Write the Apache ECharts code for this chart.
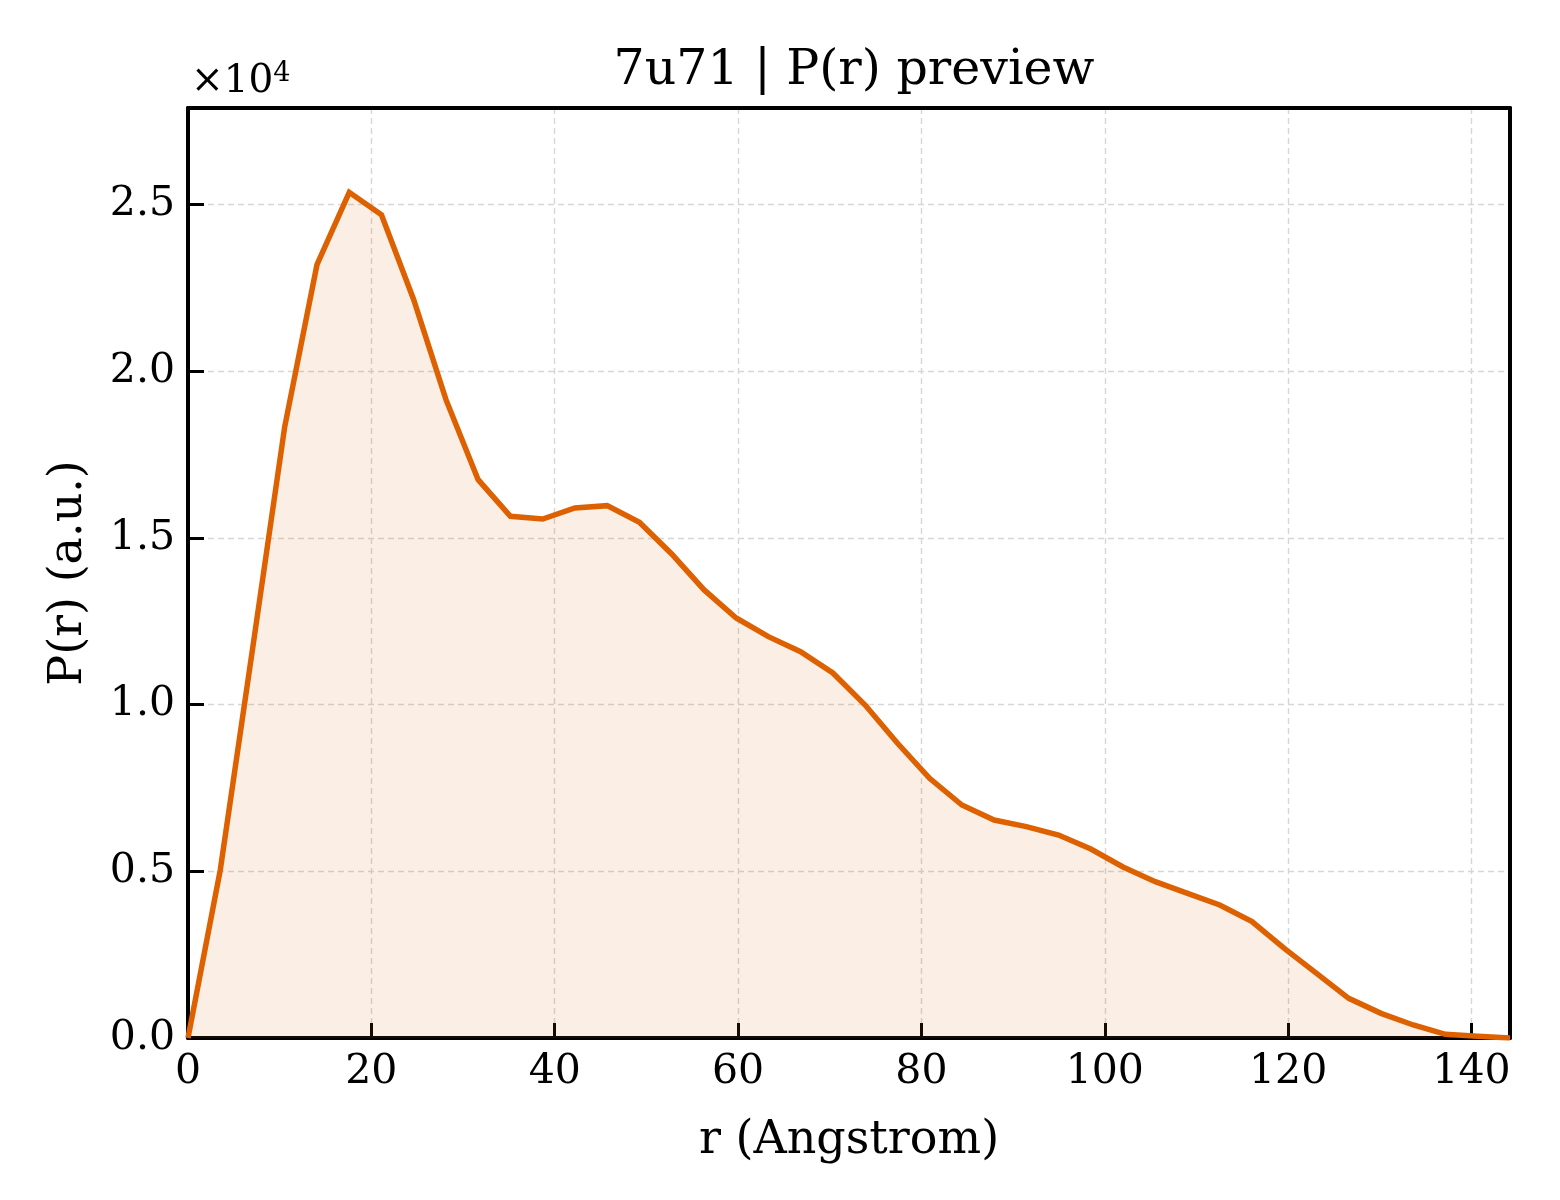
<!DOCTYPE html>
<html>
<head>
<meta charset="utf-8">
<script src="https://cdn.jsdelivr.net/npm/echarts@6/dist/echarts.min.js"></script>
<style>
  html, body { margin: 0; padding: 0; background: #fff; }
  #chart { width: 1560px; height: 1200px; }
</style>
</head>
<body>
<div id="chart"></div>
<script>
const rValues = [0, 3.52, 7.03, 10.55, 14.07, 17.59, 21.10, 24.62, 28.14, 31.65, 35.17, 38.69,
  42.20, 45.72, 49.24, 52.76, 56.27, 59.79, 63.31, 66.82, 70.34, 73.86, 77.37, 80.89, 84.41,
  87.93, 91.44, 94.96, 98.48, 101.99, 105.51, 109.03, 112.54, 116.06, 119.58, 123.10, 126.61,
  130.13, 133.65, 137.16, 140.68, 144.20];
const prValues = [0, 5040, 11650, 18340, 23200, 25370, 24700, 22150, 19150, 16750, 15650, 15570,
  15900, 15970, 15470, 14520, 13450, 12600, 12040, 11590, 10950, 9990, 8850, 7790, 6990,
  6540, 6340, 6090, 5670, 5130, 4690, 4340, 3990, 3490, 2690, 1940, 1190, 740, 390, 110, 50, 0];

const xTicks = [0, 20, 40, 60, 80, 100, 120, 140];
const yTicks = [0, 5000, 10000, 15000, 20000, 25000];

const FONT = 'DejaVu Serif';
const LINE = '#dd6100';
const GRIDLINE = { show: true, lineStyle: { color: '#d6d6d6', width: 1.4, type: [6, 4] } };

const chart = echarts.init(document.getElementById('chart'));
const points = rValues.map((r, i) => [r, prValues[i]]);

// plain frame axes for the top and right edges
const frameAxis = {
  type: 'value',
  axisLine: { show: true, onZero: false, lineStyle: { color: '#000', width: 4 } },
  axisTick: { show: false }, axisLabel: { show: false }, splitLine: { show: false }
};

chart.setOption({
  animation: false,
  backgroundColor: '#fff',
  title: {
    text: '7u71 | P(r) preview',
    left: 849, top: 42, textAlign: 'center',
    textStyle: { fontFamily: FONT, fontWeight: 'normal', fontSize: 49, color: '#000' }
  },
  graphic: [{
    type: 'text', left: 191, top: 60,
    style: {
      text: '×10{s|4}',
      font: `39px "${FONT}"`, fill: '#000',
      rich: { s: { fontFamily: FONT, fontSize: 27, verticalAlign: 'top', padding: [0, 0, 16, 0] } }
    }
  }],
  grid: { left: 188, right: 50, top: 108, bottom: 162 },
  xAxis: [{
    type: 'value', min: 0, max: 144.2, interval: 20,
    name: 'r (Angstrom)', nameLocation: 'middle', nameGap: 80,
    nameTextStyle: { fontFamily: FONT, fontSize: 46, color: '#000' },
    axisLine: { onZero: false, lineStyle: { color: '#000', width: 4 } },
    axisTick: { inside: true, length: 15, lineStyle: { color: '#000', width: 3 } },
    axisLabel: {
      fontFamily: FONT, fontSize: 41, color: '#000', margin: 14,
      showMaxLabel: false,
      formatter: v => xTicks.includes(v) ? String(v) : ''
    },
    splitLine: GRIDLINE
  }, Object.assign({ position: 'top', min: 0, max: 144.2 }, frameAxis)],
  yAxis: [{
    type: 'value', min: 0, max: 27900, interval: 5000,
    name: 'P(r) (a.u.)', nameLocation: 'middle', nameGap: 96,
    nameTextStyle: { fontFamily: FONT, fontSize: 46, color: '#000' },
    axisLine: { onZero: false, lineStyle: { color: '#000', width: 4 } },
    axisTick: { inside: true, length: 16, lineStyle: { color: '#000', width: 3 } },
    axisLabel: {
      fontFamily: FONT, fontSize: 41, color: '#000', margin: 13,
      showMaxLabel: false,
      formatter: v => yTicks.includes(v) ? (v / 10000).toFixed(1) : ''
    },
    splitLine: GRIDLINE
  }, Object.assign({ position: 'right', min: 0, max: 27900 }, frameAxis)],
  series: [{
    type: 'line', data: points, showSymbol: false, symbol: 'none',
    lineStyle: { color: LINE, width: 5.5, join: 'miter' },
    areaStyle: { color: 'rgba(221,97,0,0.15)', origin: 'start' },
    clip: true
  }]
});
</script>
</body>
</html>
